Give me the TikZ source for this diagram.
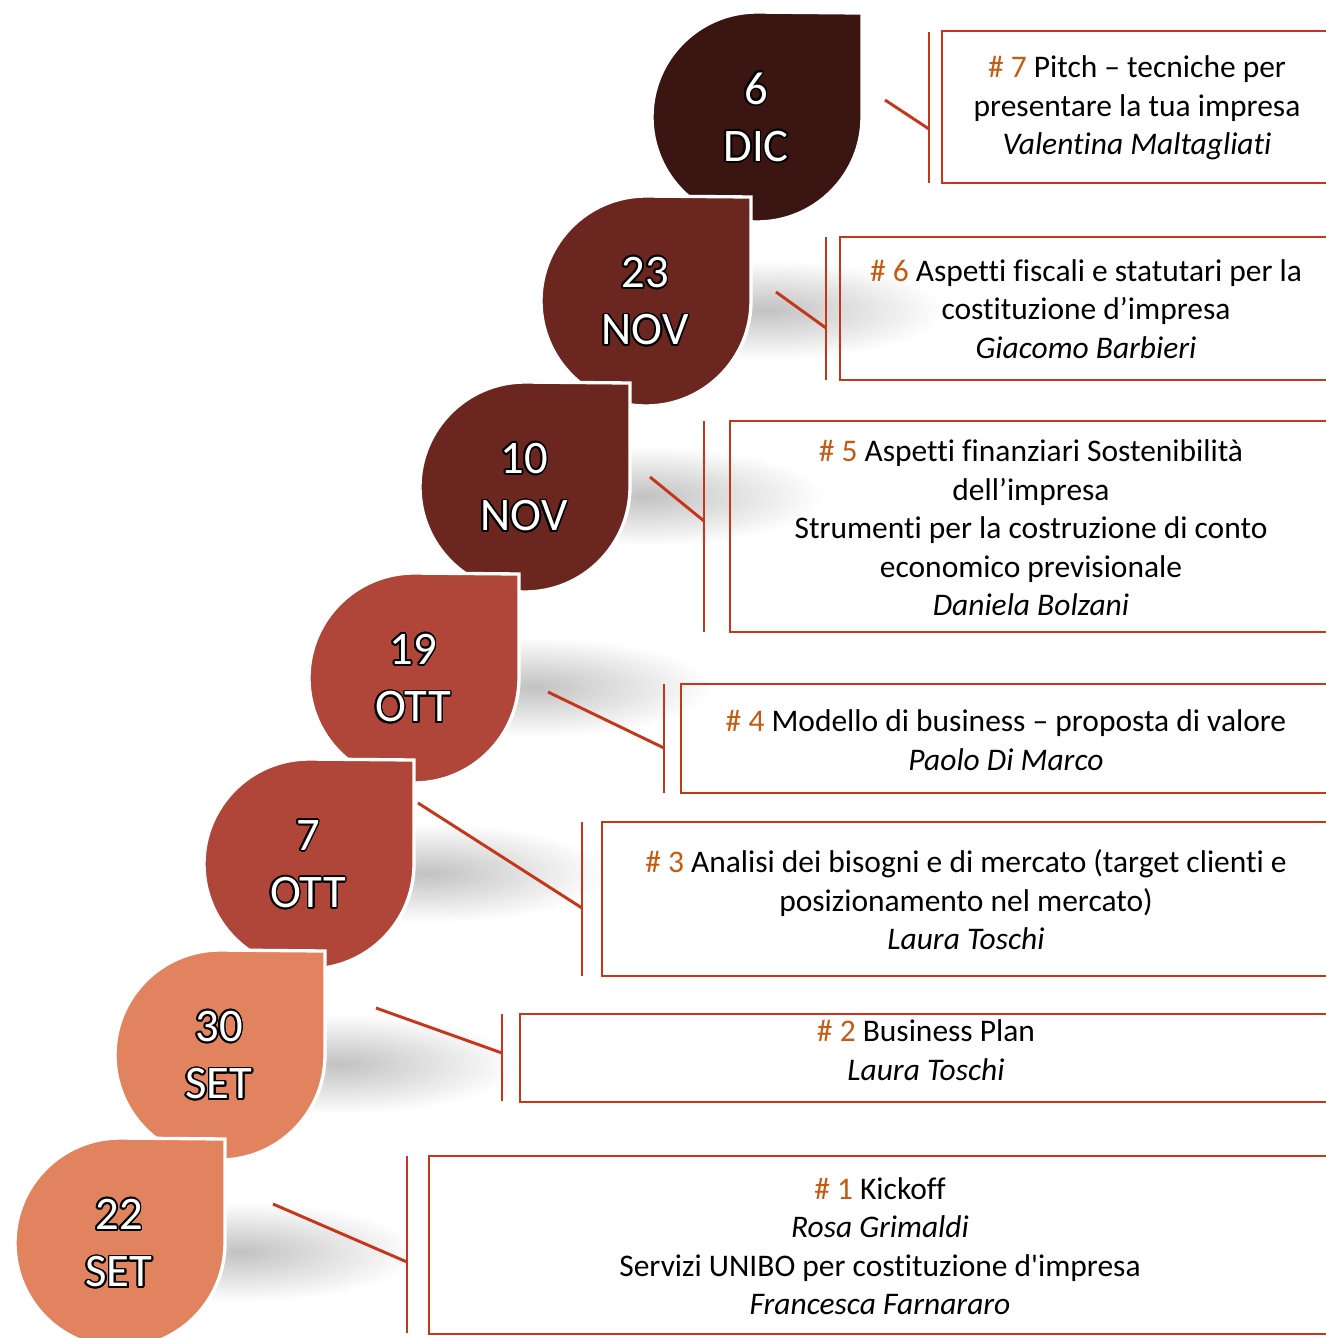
\documentclass[tikz,border=0pt]{standalone}
\usepackage{fontspec}
\setmainfont[Ligatures={TeX,NoCommon}]{Carlito}
\usepackage{contour}
\contourlength{1.3pt}
\definecolor{dicC}{RGB}{59,21,18}
\definecolor{novC}{RGB}{106,38,31}
\definecolor{ottC}{RGB}{176,69,57}
\definecolor{setC}{RGB}{224,131,94}
\definecolor{leadC}{RGB}{197,54,26}
\definecolor{hashC}{RGB}{197,90,17}
\newcommand{\hn}[1]{\textcolor{hashC}{\# #1}}
\newcommand{\ol}[1]{\contour{black}{#1}}

\tikzset{every picture/.style={line width=0.75pt}}
\tikzset{
  drop/.style={draw=white, line width=2.5pt},
  datetext/.style={align=center, inner sep=0pt, text=white, font=\fontsize{35}{43}\selectfont},
  lead/.style={draw=leadC, line width=2.2pt},
  box/.style={draw=leadC, line width=2.2pt},
  boxtext/.style={align=center, inner sep=0pt, font=\fontsize{23.6}{28.9}\selectfont}
}

\begin{document}
\begin{tikzpicture}[x=0.75pt,y=0.75pt,yscale=-1,xscale=1]
\useasboundingbox (0,0) rectangle (1325,1338);

%Shadows behind the drops
\foreach \cx/\cy in {645/301,524/487,413/678,308/864,219/1055,119/1243}
  \shade[inner color=black!24, outer color=white] (\cx+120,\cy+9) ellipse (180 and 50);

%Drops, top to bottom
\foreach \cx/\cy/\col/\d/\m [count=\i] in {756/117/dicC/6/DIC, 645/301/novC/23/NOV, 524/487/novC/10/NOV, 413/678/ottC/19/OTT, 308/864/ottC/7/OTT, 219/1055/setC/30/SET, 119/1243/setC/22/SET}{
  \draw[drop, fill=\col] (\cx+106,\cy-104) -- (\cx+106,\cy) arc[start angle=0, end angle=270, radius=105] -- cycle;
  \node[datetext] (d\i) at (\cx,\cy+1) {\ol{\d}\\\ol{\m}};
}

%Boxes
\draw[box] (942,31) rectangle (1335,183);
\draw[box] (840,237) rectangle (1335,380);
\draw[box] (730,421) rectangle (1335,632);
\draw[box] (681,684) rectangle (1335,793);
\draw[box] (602,822) rectangle (1335,976);
\draw[box] (520,1014) rectangle (1335,1102);
\draw[box] (429,1156) rectangle (1335,1334);

%Bars
\draw[lead] (929,32) -- (929,183);
\draw[lead] (826,237) -- (826,380);
\draw[lead] (704,421) -- (704,632);
\draw[lead] (664,684) -- (664,793);
\draw[lead] (582,822) -- (582,976);
\draw[lead] (502,1014) -- (502,1101);
\draw[lead] (407,1156) -- (407,1333);

%Leader lines
\coordinate (s7) at (885,100);  \coordinate (j7) at (929,129);
\coordinate (s6) at (776,292);  \coordinate (j6) at (826,328);
\coordinate (s5) at (650,477);  \coordinate (j5) at (704,521);
\coordinate (s4) at (548,692);  \coordinate (j4) at (664,748);
\coordinate (s3) at (418,803);  \coordinate (j3) at (582,908);
\coordinate (s2) at (376,1008); \coordinate (j2) at (502,1053);
\coordinate (s1) at (273,1204); \coordinate (j1) at (407,1262);
\foreach \i in {1,...,7}
  \draw[lead] (s\i) -- (j\i);

% Text Node
\node[boxtext] (t7) at (1137,108) {\hn{7} Pitch – tecniche per\\presentare la tua impresa\\\textit{Valentina Maltagliati}};
% Text Node
\node[boxtext] (t6) at (1086,309) {\hn{6} Aspetti fiscali e statutari per la\\costituzione d’impresa\\\textit{Giacomo Barbieri}};
% Text Node
\node[boxtext] (t5) at (1031,528) {\hn{5} Aspetti finanziari Sostenibilità\\dell’impresa\\Strumenti per la costruzione di conto\\economico previsionale\\\textit{Daniela Bolzani}};
% Text Node
\node[boxtext] (t4) at (1006,740) {\hn{4} Modello di business – proposta di valore\\\textit{Paolo Di Marco}};
% Text Node
\node[boxtext] (t3) at (966,900) {\hn{3} Analisi dei bisogni e di mercato (target clienti e\\posizionamento nel mercato)\\\textit{Laura Toschi}};
% Text Node
\node[boxtext] (t2) at (926,1050) {\hn{2} Business Plan\\\textit{Laura Toschi}};
% Text Node
\node[boxtext] (t1) at (880,1246) {\hn{1} Kickoff\\\textit{Rosa Grimaldi}\\Servizi UNIBO per costituzione d\textquotesingle impresa\\\textit{Francesca Farnararo}};

\end{tikzpicture}
\end{document}
